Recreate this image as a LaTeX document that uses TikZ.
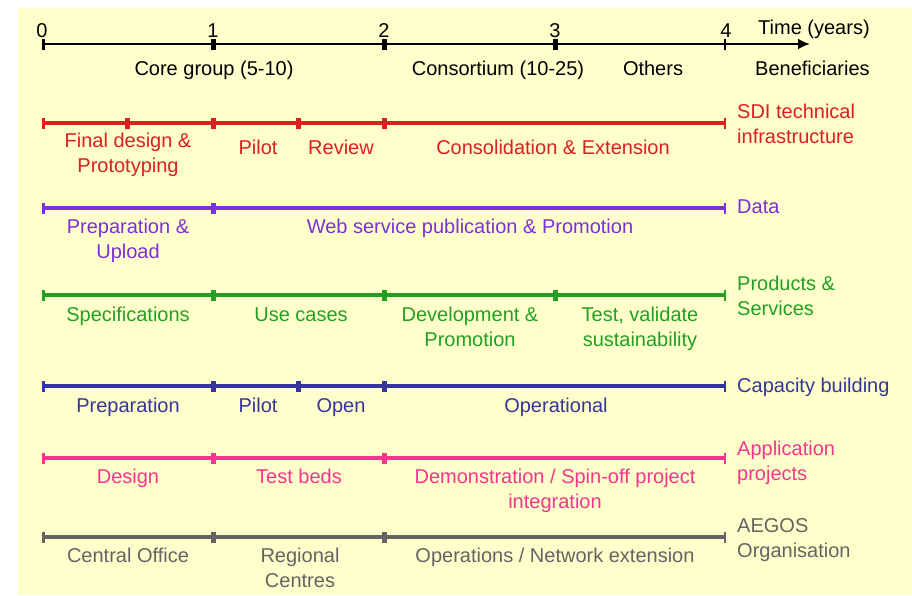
\documentclass[tikz,border=0pt]{standalone}
\usepackage{fontspec}
\setmainfont{Liberation Sans}
\usetikzlibrary{arrows.meta}
\definecolor{paper}{HTML}{FFFFCC}
\definecolor{sdired}{HTML}{DD1F1F}
\definecolor{datapurple}{HTML}{7B30DA}
\definecolor{prodgreen}{HTML}{22A022}
\definecolor{capblue}{HTML}{35359C}
\definecolor{apppink}{HTML}{F5358F}
\definecolor{orggray}{HTML}{646464}
\begin{document}
\begin{tikzpicture}[
        x = 1pt, y = -1pt,
        every node/.style = {font = \fontsize{20}{25}\selectfont, inner sep = 0pt, align = center, anchor = base},
        phase/.style = {line width = 3.5pt, {Bar[width = 11pt, line width = 2.5pt]}-{Bar[width = 11pt, line width = 2.5pt]}},
        track/.style = {align = left, anchor = base west},
        ]
    \useasboundingbox (0,0) rectangle (912,595);
    \fill[paper] (18,8) rectangle (912,595);

    \foreach \t in {0,...,4} {
        \coordinate (t\t) at ({42+171*\t},44);
        \node (year\t) at ({42+171*\t},37) {\t};
    }
    \coordinate (tend) at (810,44);
    \foreach \a/\b in {0/1,1/2,2/3,3/4}
        \draw[phase, line width = 2.5pt] (t\a) -- (t\b);
    \draw[line width = 2.5pt, -{Latex[length = 12pt, width = 11pt]}] (t4) -- (tend);
    \node[track] (time) at (758,34) {Time (years)};
    \node (core) at (214,75) {Core group (5-10)};
    \node (consortium) at (498,75) {Consortium (10-25)};
    \node (others) at (653,75) {Others};
    \node[track] (benef) at (755,75) {Beneficiaries};

    \foreach \n/\x in {0/0,1/0.5,2/1,3/1.5,4/2,5/4}
        \coordinate (sdi\n) at ({42+171*\x},123);
    \foreach \a/\b in {0/1,1/2,2/3,3/4,4/5}
        \draw[phase, sdired] (sdi\a) -- (sdi\b);
    \node[sdired] (final) at (128,172) {Final design \&\\Prototyping};
    \node[sdired] (pilotA) at (258,154) {Pilot};
    \node[sdired] (review) at (341,154) {Review};
    \node[sdired] (consol) at (553,154) {Consolidation \& Extension};
    \node[track, sdired] (sdi) at (737,143) {SDI technical\\infrastructure};

    \foreach \n/\x in {0/0,1/1,2/4}
        \coordinate (data\n) at ({42+171*\x},208);
    \foreach \a/\b in {0/1,1/2}
        \draw[phase, datapurple] (data\a) -- (data\b);
    \node[datapurple] (upload) at (128,258) {Preparation \&\\Upload};
    \node[datapurple] (websrv) at (470,233) {Web service publication \& Promotion};
    \node[track, datapurple] (data) at (737,213) {Data};

    \foreach \n/\x in {0/0,1/1,2/2,3/3,4/4}
        \coordinate (prod\n) at ({42+171*\x},295);
    \foreach \a/\b in {0/1,1/2,2/3,3/4}
        \draw[phase, prodgreen] (prod\a) -- (prod\b);
    \node[prodgreen] (specs) at (128,321) {Specifications};
    \node[prodgreen] (usecases) at (301,321) {Use cases};
    \node[prodgreen] (devel) at (470,346) {Development \&\\Promotion};
    \node[prodgreen] (test) at (640,346) {Test, validate\\sustainability};
    \node[track, prodgreen] (prod) at (737,315) {Products \&\\Services};

    \foreach \n/\x in {0/0,1/1,2/1.5,3/2,4/4}
        \coordinate (cap\n) at ({42+171*\x},386);
    \foreach \a/\b in {0/1,1/2,2/3,3/4}
        \draw[phase, capblue] (cap\a) -- (cap\b);
    \node[capblue] (prep) at (128,412) {Preparation};
    \node[capblue] (pilotB) at (258,412) {Pilot};
    \node[capblue] (open) at (341,412) {Open};
    \node[capblue] (oper) at (556,412) {Operational};
    \node[track, capblue] (cap) at (737,392) {Capacity building};

    \foreach \n/\x in {0/0,1/1,2/2,3/4}
        \coordinate (app\n) at ({42+171*\x},458);
    \foreach \a/\b in {0/1,1/2,2/3}
        \draw[phase, apppink] (app\a) -- (app\b);
    \node[apppink] (design) at (128,483) {Design};
    \node[apppink] (testbeds) at (299,483) {Test beds};
    \node[apppink] (demo) at (555,508) {Demonstration / Spin-off project\\integration};
    \node[track, apppink] (app) at (737,480) {Application\\projects};

    \foreach \n/\x in {0/0,1/1,2/2,3/4}
        \coordinate (org\n) at ({42+171*\x},537);
    \foreach \a/\b in {0/1,1/2,2/3}
        \draw[phase, orggray] (org\a) -- (org\b);
    \node[orggray] (central) at (128,562) {Central Office};
    \node[orggray] (regional) at (300,587) {Regional\\Centres};
    \node[orggray] (network) at (555,562) {Operations / Network extension};
    \node[track, orggray] (org) at (737,557) {AEGOS\\Organisation};
\end{tikzpicture}
\end{document}
